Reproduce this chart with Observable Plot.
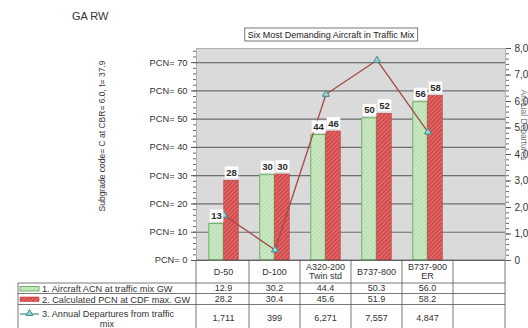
<!DOCTYPE html>
<html>
<head>
<meta charset="utf-8">
<script src="https://cdn.jsdelivr.net/npm/d3@7"></script>
<script src="https://cdn.jsdelivr.net/npm/@observablehq/plot@0.6"></script>
<style>
  html, body { margin: 0; padding: 0; background: #fff; overflow: hidden; }
  #wrap { position: relative; width: 528px; height: 328px; font-family: "Liberation Sans", Arial, sans-serif; }
  #wrap svg { overflow: hidden; }
</style>
</head>
<body>
<svg width="0" height="0" style="position:absolute">
  <defs>
    <pattern id="hatchG" width="3" height="3" patternUnits="userSpaceOnUse" patternTransform="rotate(45)">
      <rect width="3" height="3" fill="#cbe8c4"></rect>
      <line x1="0" y1="0" x2="0" y2="3" stroke="#a6d49e" stroke-width="1.2"></line>
    </pattern>
    <pattern id="hatchR" width="3" height="3" patternUnits="userSpaceOnUse" patternTransform="rotate(45)">
      <rect width="3" height="3" fill="#d44a4a"></rect>
      <line x1="0" y1="0" x2="0" y2="3" stroke="#eea0a0" stroke-width="1"></line>
    </pattern>
  </defs>
</svg>
<div id="wrap"></div>
<script>
// ---- data ----
const categories = ["D-50", "D-100", "A320-200\nTwin std", "B737-800", "B737-900\nER", ""];
const acn = [12.9, 30.2, 44.4, 50.3, 56.0, null];
const pcn = [28.2, 30.4, 45.6, 51.9, 58.2, null];
const departures = [1711, 399, 6271, 7557, 4847, null];
const pcnTicks = [0, 10, 20, 30, 40, 50, 60, 70];
const depTicks = [0, 1000, 2000, 3000, 4000, 5000, 6000, 7000, 8000];
const legendLabels = ["1. Aircraft ACN at traffic mix GW", "2. Calculated PCN at CDF max. GW", "3. Annual Departures from traffic\nmix"];
const titleText = "Six Most Demanding Aircraft in Traffic Mix";
const leftTitle = "Subgrade code= C at CBR= 6.0, t= 37.9";
const rightTitle = "Annual Departures";
const topLeftText = "GA RW";

const yMax = 75, depMax = 8000;
const toY = v => v * yMax / depMax;

const rows = categories.map((c, i) => ({cat: c, acn: acn[i], pcn: pcn[i], dep: departures[i]}));
const valid = rows.filter(d => d.acn != null);

const W = 528, H = 328, mL = 196, mR = 23, mT = 48, mB = 68;
const colW = (W - mL - mR) / categories.length;
const barW = 15;

const plot = Plot.plot({
  width: W, height: H,
  marginLeft: mL, marginRight: mR, marginTop: mT, marginBottom: mB,
  style: {fontFamily: "Liberation Sans, Arial, sans-serif", fontSize: "9px", color: "#333", background: "transparent"},
  x: {type: "band", domain: categories, padding: 0, axis: null},
  y: {domain: [0, yMax], axis: null},
  marks: [
    Plot.frame({fill: "#dadada", stroke: "#b0b0b0"}),
    Plot.gridY(pcnTicks, {stroke: "#6e6e6e", strokeOpacity: 1, strokeWidth: 1.2}),
    Plot.barY(valid, {x: "cat", y: "acn", fill: "url(#hatchG)", stroke: "#6cb463", strokeWidth: 1,
      insetLeft: colW / 2 - barW, insetRight: colW / 2}),
    Plot.barY(valid, {x: "cat", y: "pcn", fill: "url(#hatchR)", stroke: "#c23a3a", strokeWidth: 0.6,
      insetLeft: colW / 2, insetRight: colW / 2 - barW}),
    Plot.line(valid, {x: "cat", y: d => toY(d.dep), stroke: "#a34a48", strokeWidth: 1.3}),
    Plot.dot(valid, {x: "cat", y: d => toY(d.dep), symbol: "triangle", r: 2.6, stroke: "#3d8c8c", fill: "#9fd3cf", strokeWidth: 1}),
    Plot.text(valid, {x: "cat", y: "acn", text: d => String(Math.round(d.acn)), dx: -barW / 2, dy: -8,
      fill: "#2a2a2a", fontSize: 9.5, fontWeight: 600, className: "vlabel"}),
    Plot.text(valid, {x: "cat", y: "pcn", text: d => String(Math.round(d.pcn)), dx: barW / 2, dy: -8,
      fill: "#2a2a2a", fontSize: 9.5, fontWeight: 600, className: "vlabel"}),
    Plot.axisY({ticks: d3.range(0, 76, 2), tickSize: 3, tickFormat: () => "", stroke: "#666"}),
    Plot.axisY({ticks: pcnTicks, tickSize: 5, tickPadding: 4, tickFormat: d => `PCN= ${d}`, fontSize: 9.3, fill: "#333", stroke: "#555"}),
    Plot.axisY({anchor: "right", ticks: d3.range(0, depMax + 1, 200).map(toY), tickSize: 3, tickFormat: () => "", stroke: "#666"}),
    Plot.axisY({anchor: "right", ticks: depTicks.map(toY), tickSize: 5, tickPadding: 4,
      tickFormat: d => d3.format(",")(Math.round(d * depMax / yMax)), fontSize: 10, fill: "#333", stroke: "#555"})
  ]
});

document.getElementById("wrap").appendChild(plot);

// boxes behind value labels
const svg = d3.select(plot);
svg.selectAll("g.vlabel text").each(function () {
  const b = this.getBBox();
  d3.select(this.parentNode).insert("rect", () => this)
    .attr("x", b.x - 1.5).attr("y", b.y - 0.5).attr("width", b.width + 3).attr("height", b.height + 1)
    .attr("fill", "#fff").attr("transform", this.getAttribute("transform"));
});

const xs = plot.scale("x");
const ys = plot.scale("y");
const g = svg.append("g").attr("font-family", "Liberation Sans, Arial, sans-serif").attr("fill", "#333").attr("text-anchor", "start");
const line = "#555";
const yTop = ys.apply(0), r1 = 283, r2 = 293.5, r3 = 304.5, yBot = 340;
const x0 = mL, x1 = W - mR, lx = 18;
const fs = 9;

// table lines
[[x0, yTop, x0, yBot], [x1, yTop, x1, yBot], [lx, r1, lx, yBot],
 [x0, yTop, x1, yTop], [lx, r1, x1, r1], [lx, r2, x1, r2], [lx, r3, x1, r3]].forEach(([a, b, c, d]) =>
  g.append("line").attr("x1", a).attr("y1", b).attr("x2", c).attr("y2", d).attr("stroke", line).attr("stroke-width", 0.8));
categories.forEach((c, i) => {
  const xl = xs.apply(c);
  if (i > 0) g.append("line").attr("x1", xl).attr("x2", xl).attr("y1", yTop).attr("y2", yBot).attr("stroke", line).attr("stroke-width", 0.8);
  const cx = xl + xs.bandwidth / 2;
  const parts = c.split("\n");
  parts.forEach((p, k) => {
    g.append("text").attr("x", cx).attr("y", (yTop + r1) / 2 + 3.2 + (k - (parts.length - 1) / 2) * 9)
      .attr("text-anchor", "middle").attr("font-size", fs).text(p);
  });
  if (acn[i] != null) {
    g.append("text").attr("x", cx).attr("y", (r1 + r2) / 2 + 3.2).attr("text-anchor", "middle").attr("font-size", fs).text(acn[i].toFixed(1));
    g.append("text").attr("x", cx).attr("y", (r2 + r3) / 2 + 3.2).attr("text-anchor", "middle").attr("font-size", fs).text(pcn[i].toFixed(1));
    g.append("text").attr("x", cx).attr("y", 320.5).attr("text-anchor", "middle").attr("font-size", fs).text(d3.format(",")(departures[i]));
  }
});

// legend keys
const clipId = "legclip";
svg.append("defs").append("clipPath").attr("id", clipId).append("rect").attr("x", lx).attr("y", r1).attr("width", x0 - lx - 1).attr("height", 60);
const lg = g.append("g").attr("clip-path", `url(#${clipId})`);
lg.append("rect").attr("x", 20).attr("y", 286.5).attr("width", 19).attr("height", 4.5).attr("fill", "url(#hatchG)").attr("stroke", "#6cb463");
lg.append("rect").attr("x", 20).attr("y", 297).attr("width", 19).attr("height", 4.5).attr("fill", "url(#hatchR)").attr("stroke", "#c23a3a").attr("stroke-width", 0.6);
lg.append("line").attr("x1", 20).attr("x2", 39).attr("y1", 314).attr("y2", 314).attr("stroke", "#3d8c8c").attr("stroke-width", 1.2);
lg.append("path").attr("d", d3.symbol(d3.symbolTriangle, 20)()).attr("transform", "translate(29.5,313.5)").attr("fill", "#9fd3cf").attr("stroke", "#3d8c8c");
lg.append("text").attr("x", 42).attr("y", 291.8).attr("font-size", 9.2).text(legendLabels[0]);
lg.append("text").attr("x", 42).attr("y", 302.5).attr("font-size", 9.2).text(legendLabels[1]);
const l3 = legendLabels[2].split("\n");
lg.append("text").attr("x", 42).attr("y", 317).attr("font-size", 9.2).text(l3[0]);
lg.append("text").attr("x", 107).attr("y", 326.5).attr("font-size", 9.2).attr("text-anchor", "middle").text(l3[1]);

// title box
const tg = g.append("g");
const tt = tg.append("text").attr("x", 331).attr("y", 38).attr("text-anchor", "middle").attr("font-size", 9).attr("fill", "#222").text(titleText);
const tb = tt.node().getBBox();
tg.insert("rect", "text").attr("x", tb.x - 3).attr("y", 28).attr("width", tb.width + 6).attr("height", 13)
  .attr("fill", "#fff").attr("stroke", "#555").attr("stroke-width", 0.8);

// side texts
g.append("text").attr("x", 72).attr("y", 20).attr("font-size", 11).attr("fill", "#333").text(topLeftText);
g.append("text").attr("transform", "translate(105,136) rotate(-90)").attr("text-anchor", "middle").attr("font-size", 8.5).text(leftTitle);
g.append("text").attr("transform", "translate(521,125) rotate(90)").attr("text-anchor", "middle").attr("font-size", 8.5).attr("fill", "#777").text(rightTitle);
</script>
</body>
</html>
